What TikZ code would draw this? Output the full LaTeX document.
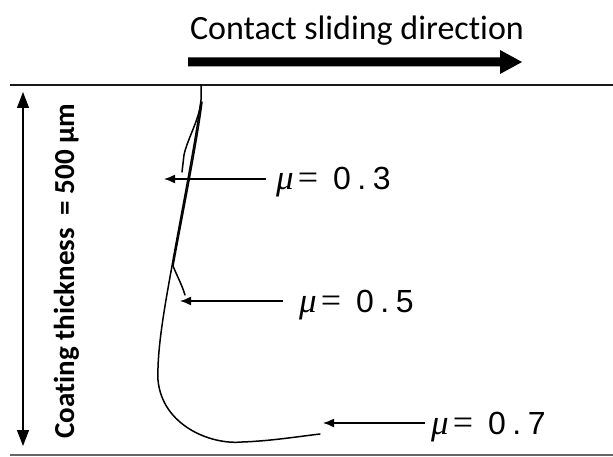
\documentclass[tikz,border=0pt]{standalone}
\usepackage{fontspec}
\setmainfont{Carlito}[Ligatures=NoCommon]
\newfontfamily\digfont{Liberation Sans}
\newfontfamily\grkfont{Liberation Serif}
\usetikzlibrary{arrows.meta}
\newcommand{\mulab}[1]{{\grkfont\itshape\fontsize{35}{37}\selectfont μ}\hspace{4pt}{\grkfont\fontsize{36}{38}\selectfont =}\hspace{15pt}{\digfont\fontsize{32}{34}\selectfont 0\hspace{6.5pt}.\hspace{6.5pt}#1}}
\begin{document}
\begin{tikzpicture}[x=1pt,y=-1pt,
  curve/.style={line width=1.5pt, line join=round, line cap=round},
  lab/.style={inner sep=0pt, anchor=base west},
  ptr/.style={line width=1.5pt, -{Latex[length=11pt,width=9pt]}},
  dimarrow/.style={line width=1.2pt, {Triangle[length=16pt,width=12pt]}-{Triangle[length=16pt,width=12pt]}}]
\useasboundingbox (0,0) rectangle (613,457);
% title and sliding arrow
\node[font=\fontsize{34}{38}\selectfont, anchor=base, inner sep=0pt] (title) at (357,40) {Contact sliding direction};
\fill (188,57.5) -- (500,57.5) -- (500,50) -- (522,62) -- (500,74) -- (500,66.5) -- (188,66.5) -- cycle;
% surface lines
\draw[line width=2.4pt, black!90] (10,85) -- (613,85);
\draw[line width=1.3pt, black!60] (10,455) -- (613,455);
% thickness arrow
\coordinate (dt) at (23,92);
\coordinate (db) at (23,446);
\draw[dimarrow] (dt) -- (db);
\node[rotate=90, font=\bfseries\fontsize{29}{32}\selectfont, inner sep=0pt, anchor=base] (thick) at (74,271) {Coating thickness\ \ = 500 µm};
% profiles
\draw[curve] (201,85) -- (201,100) .. controls (196,140) and (180,220) .. (172,266)
  .. controls (164,310) and (157,350) .. (158,380)
  .. controls (162,425) and (210,445) .. (242,442)
  .. controls (270,441) and (295,437) .. (320,434);
\draw[curve] (201,102) .. controls (199,120) and (187,140) .. (184,155) -- (182,172);
\draw[curve] (202,102) .. controls (197,142) and (181,222) .. (173,266)
  .. controls (178,278) and (182,285) .. (185,295);
% labels and pointers
\coordinate (t3) at (164,179); \coordinate (s3) at (266,179);
\coordinate (t5) at (180,301); \coordinate (s5) at (283,301);
\coordinate (t7) at (323,423); \coordinate (s7) at (425,423);
\draw[ptr] (s3) -- (t3);
\draw[ptr] (s5) -- (t5);
\draw[ptr] (s7) -- (t7);
\node[lab] (m3) at (276,190) {\mulab{3}};
\node[lab] (m5) at (299,312) {\mulab{5}};
\node[lab] (m7) at (431,434) {\mulab{7}};
\end{tikzpicture}
\end{document}
